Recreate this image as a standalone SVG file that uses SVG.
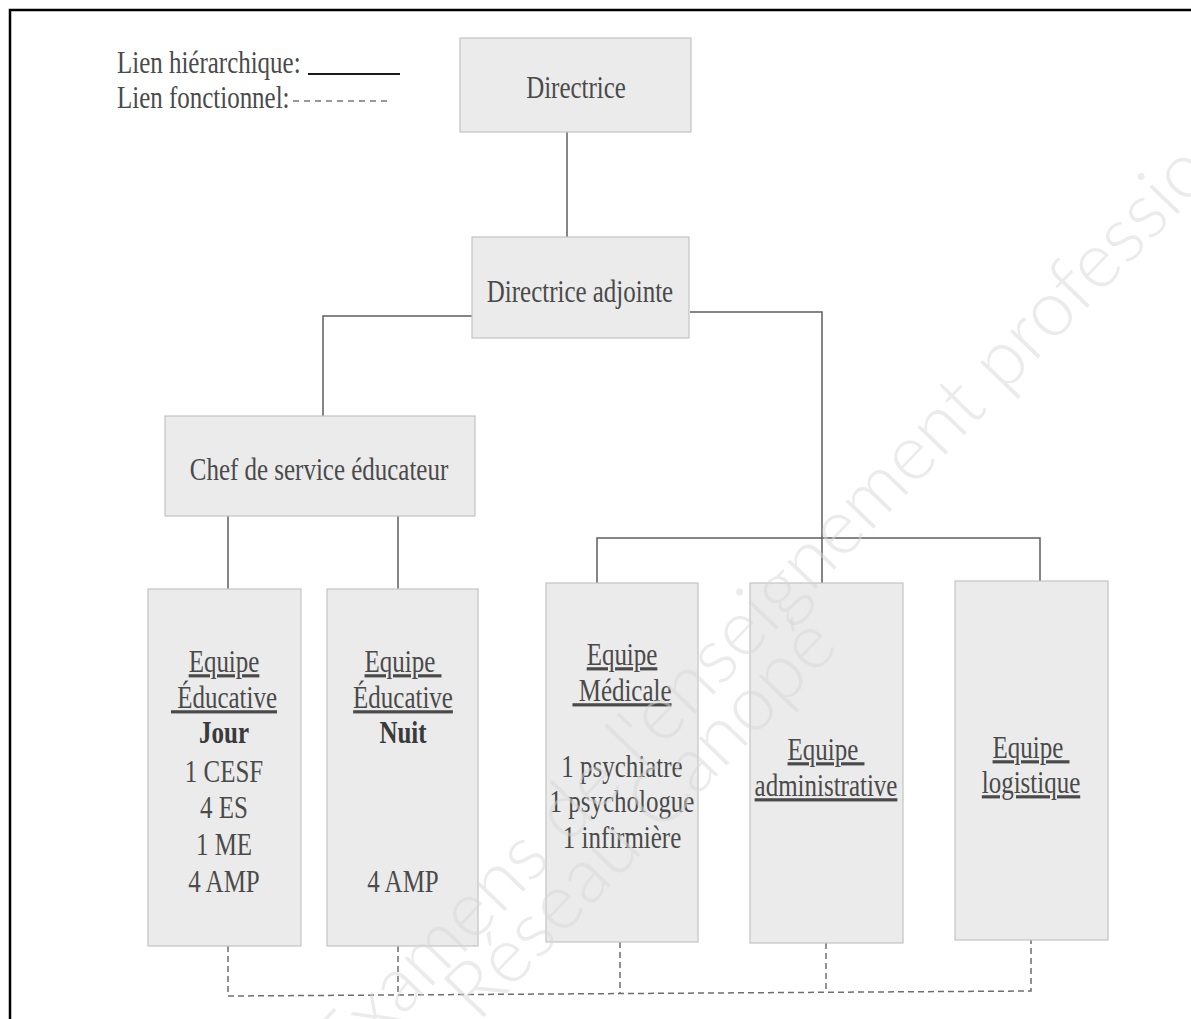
<svg xmlns="http://www.w3.org/2000/svg" width="1191" height="1019" viewBox="0 0 1191 1019">
<style>
.t{font-family:"Liberation Serif","Times New Roman",serif;font-size:32px;fill:#4a4a4a;text-anchor:middle}
.l{text-anchor:start}
.u{text-decoration:underline}
.b{font-weight:bold;fill:#3a3a3a}
.box{fill:#ebebeb;stroke:#c4c4c4;stroke-width:1.2}
.h{fill:none;stroke:#5e5e5e;stroke-width:1.5}
.f{fill:none;stroke:#6e6e6e;stroke-width:1.5;stroke-dasharray:6 4}
.wm{font-family:Lato,"Open Sans",sans-serif;font-weight:300;font-size:78px;fill:#d8d8d8;fill-opacity:0.5}
</style>
<rect x="0" y="0" width="1191" height="1019" fill="#ffffff"/>
<g id="page-border">
<path d="M10,1019 V10 H1191" fill="none" stroke="#000" stroke-width="2.5"/>
</g>
<g id="legend">
<text class="t l" transform="translate(117,73) scale(0.78,1)">Lien hiérarchique:</text>
<line x1="308" y1="74" x2="400" y2="74" stroke="#1a1a1a" stroke-width="2"/>
<text class="t l" transform="translate(117,108) scale(0.78,1)">Lien fonctionnel:</text>
<line x1="293" y1="101" x2="392" y2="101" stroke="#777" stroke-width="1.5" stroke-dasharray="6 5"/>
</g>
<g id="connectors">
<line class="h" x1="567" y1="132" x2="567" y2="237"/>
<polyline class="h" points="472,316 323,316 323,416"/>
<polyline class="h" points="690,312 822,312 822,583"/>
<polyline class="h" points="597,583 597,538 1040,538 1040,581"/>
<line class="h" x1="228" y1="516" x2="228" y2="589"/>
<line class="h" x1="398" y1="516" x2="398" y2="589"/>
<polyline class="f" points="228,946 228,996 1031,991 1031,940"/>
<line class="f" x1="398" y1="946" x2="398" y2="994"/>
<line class="f" x1="620" y1="942" x2="620" y2="994"/>
<line class="f" x1="826" y1="943" x2="826" y2="993"/>
</g>
<g id="directrice">
<rect class="box" x="460" y="38" width="231" height="94"/>
<text class="t" transform="translate(576,98) scale(0.78,1)">Directrice</text>
</g>
<g id="directrice-adjointe">
<rect class="box" x="472" y="237" width="217" height="101"/>
<text class="t" transform="translate(580,302) scale(0.78,1)">Directrice adjointe</text>
</g>
<g id="chef-service">
<rect class="box" x="165" y="416" width="310" height="100"/>
<text class="t" transform="translate(319,480) scale(0.78,1)">Chef de service éducateur</text>
</g>
<g id="equipe-jour">
<rect class="box" x="148" y="589" width="153" height="357"/>
<text class="t u" transform="translate(224,672) scale(0.78,1)">Equipe</text>
<text class="t u" xml:space="preserve" transform="translate(224,708) scale(0.78,1)"> Éducative</text>
<text class="t b" transform="translate(224,743) scale(0.78,1)">Jour</text>
<text class="t" transform="translate(224,782) scale(0.78,1)">1 CESF</text>
<text class="t" transform="translate(224,818) scale(0.78,1)">4 ES</text>
<text class="t" transform="translate(224,855) scale(0.78,1)">1 ME</text>
<text class="t" transform="translate(224,892) scale(0.78,1)">4 AMP</text>
</g>
<g id="equipe-nuit">
<rect class="box" x="327" y="589" width="151" height="357"/>
<text class="t u" xml:space="preserve" transform="translate(403,672) scale(0.78,1)">Equipe </text>
<text class="t u" transform="translate(403,708) scale(0.78,1)">Éducative</text>
<text class="t b" transform="translate(403,743) scale(0.78,1)">Nuit</text>
<text class="t" transform="translate(403,892) scale(0.78,1)">4 AMP</text>
</g>
<g id="equipe-medicale">
<rect class="box" x="546" y="583" width="152" height="359"/>
<text class="t u" transform="translate(622,665) scale(0.78,1)">Equipe</text>
<text class="t u" xml:space="preserve" transform="translate(622,701) scale(0.78,1)"> Médicale</text>
<text class="t" transform="translate(622,777) scale(0.78,1)">1 psychiatre</text>
<text class="t" transform="translate(622,812) scale(0.78,1)">1 psychologue</text>
<text class="t" transform="translate(622,848) scale(0.78,1)">1 infirmière</text>
</g>
<g id="equipe-administrative">
<rect class="box" x="750" y="583" width="153" height="360"/>
<text class="t u" xml:space="preserve" transform="translate(826,760) scale(0.78,1)">Equipe </text>
<text class="t u" transform="translate(826,796) scale(0.78,1)">administrative</text>
</g>
<g id="equipe-logistique">
<rect class="box" x="955" y="581" width="153" height="359"/>
<text class="t u" xml:space="preserve" transform="translate(1031,758) scale(0.78,1)">Equipe </text>
<text class="t u" transform="translate(1031,793) scale(0.78,1)">logistique</text>
</g>
<g id="watermark">
<text class="wm" transform="translate(150,1278) rotate(-46)">Sujets d'Examens de l'enseignement professionnel</text>
<text class="wm" transform="translate(478,1023) rotate(-46)">Réseau Canopé</text>
</g>
</svg>
